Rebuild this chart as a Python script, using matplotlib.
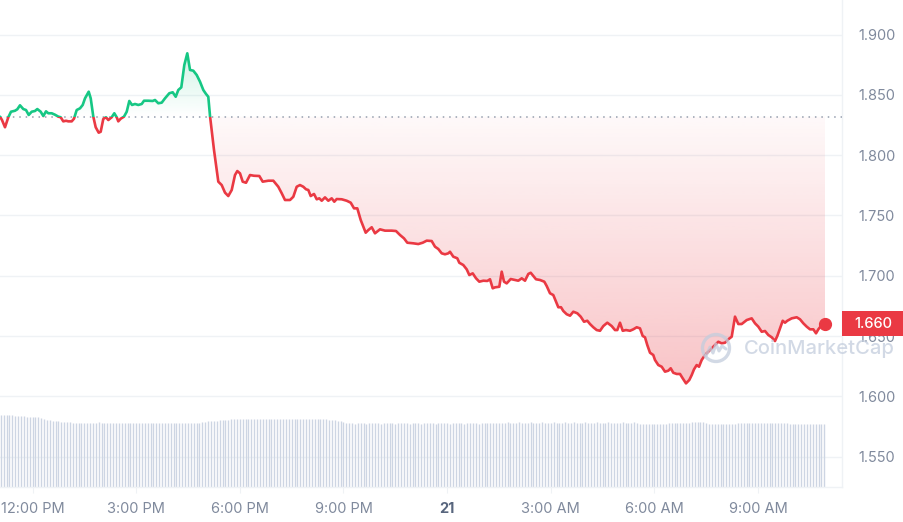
import numpy as np
import matplotlib
matplotlib.use("Agg")
import matplotlib.pyplot as plt
from matplotlib.patches import Rectangle, Circle
from matplotlib.transforms import blended_transform_factory

plt.rcParams['font.family'] = ['Inter', 'DejaVu Sans']

# ---------------- data ----------------
# time in hours relative to 12:00 PM (day 20)
hours = [
    -0.941, -0.883, -0.796, -0.700, -0.622, -0.507, -0.440, -0.362, -0.266, -0.188,
    -0.110, -0.023, 0.072, 0.139, 0.237, 0.313, 0.391, 0.457, 0.556, 0.651,
    0.747, 0.816, 0.891, 0.970, 1.036, 1.135, 1.201, 1.279, 1.375, 1.453,
    1.520, 1.627, 1.685, 1.760, 1.829, 1.916, 1.974, 2.049, 2.127, 2.194,
    2.292, 2.368, 2.437, 2.483, 2.553, 2.648, 2.727, 2.802, 2.880, 2.967,
    3.062, 3.161, 3.227, 3.352, 3.479, 3.546, 3.641, 3.740, 3.835, 3.960,
    4.058, 4.145, 4.220, 4.307, 4.394, 4.480, 4.559, 4.654, 4.753, 4.848,
    4.944, 5.022, 5.088, 5.138, 5.253, 5.378, 5.476, 5.572, 5.667, 5.766,
    5.861, 5.928, 6.006, 6.084, 6.180, 6.295, 6.411, 6.565, 6.663, 6.825,
    6.970, 7.114, 7.213, 7.308, 7.453, 7.549, 7.647, 7.742, 7.838, 7.916,
    7.983, 8.052, 8.148, 8.226, 8.301, 8.371, 8.466, 8.562, 8.660, 8.735,
    8.805, 8.950, 9.094, 9.210, 9.306, 9.401, 9.500, 9.644, 9.720, 9.818,
    9.913, 10.058, 10.203, 10.397, 10.521, 10.637, 10.753, 10.848, 11.022, 11.166,
    11.294, 11.410, 11.554, 11.650, 11.745, 11.844, 11.939, 12.035, 12.084, 12.180,
    12.295, 12.353, 12.469, 12.568, 12.643, 12.741, 12.837, 12.932, 13.048, 13.164,
    13.242, 13.320, 13.387, 13.511, 13.581, 13.647, 13.725, 13.841, 13.966, 14.061,
    14.160, 14.255, 14.351, 14.420, 14.495, 14.573, 14.689, 14.813, 14.883, 14.978,
    15.074, 15.152, 15.219, 15.297, 15.364, 15.462, 15.558, 15.653, 15.769, 15.867,
    15.963, 16.058, 16.136, 16.232, 16.330, 16.426, 16.521, 16.637, 16.764, 16.860,
    16.926, 17.004, 17.083, 17.178, 17.294, 17.389, 17.488, 17.583, 17.661, 17.728,
    17.794, 17.873, 17.968, 18.017, 18.113, 18.211, 18.307, 18.402, 18.472, 18.547,
    18.646, 18.741, 18.819, 18.915, 19.010, 19.080, 19.146, 19.224, 19.291, 19.369,
    19.465, 19.560, 19.659, 19.754, 19.850, 19.948, 20.044, 20.139, 20.238, 20.333,
    20.429, 20.527, 20.672, 20.816, 20.912, 21.008, 21.106, 21.202, 21.297, 21.396,
    21.491, 21.558, 21.636, 21.714, 21.781, 21.847, 21.974, 22.119, 22.215, 22.310,
    22.409, 22.504, 22.600, 22.678, 22.745, 22.843, 22.938,
]

price = [
    1.8319, 1.8291, 1.8231, 1.8314, 1.8360, 1.8368, 1.8380, 1.8413, 1.8382, 1.8374,
    1.8333, 1.8360, 1.8366, 1.8382, 1.8360, 1.8324, 1.8363, 1.8347, 1.8347, 1.8335,
    1.8319, 1.8314, 1.8280, 1.8285, 1.8280, 1.8280, 1.8302, 1.8374, 1.8388, 1.8416,
    1.8471, 1.8526, 1.8471, 1.8319, 1.8231, 1.8186, 1.8194, 1.8300, 1.8314, 1.8291,
    1.8314, 1.8347, 1.8314, 1.8280, 1.8302, 1.8319, 1.8360, 1.8449, 1.8416, 1.8424,
    1.8416, 1.8424, 1.8451, 1.8451, 1.8449, 1.8457, 1.8430, 1.8435, 1.8471, 1.8513,
    1.8521, 1.8484, 1.8540, 1.8562, 1.8747, 1.8844, 1.8706, 1.8700, 1.8664, 1.8609,
    1.8540, 1.8507, 1.8484, 1.8324, 1.8043, 1.7780, 1.7752, 1.7689, 1.7661, 1.7711,
    1.7835, 1.7868, 1.7849, 1.7780, 1.7771, 1.7835, 1.7829, 1.7827, 1.7780, 1.7788,
    1.7788, 1.7738, 1.7684, 1.7628, 1.7628, 1.7655, 1.7738, 1.7752, 1.7738, 1.7717,
    1.7711, 1.7661, 1.7678, 1.7634, 1.7642, 1.7622, 1.7650, 1.7622, 1.7642, 1.7614,
    1.7636, 1.7634, 1.7622, 1.7606, 1.7559, 1.7559, 1.7462, 1.7357, 1.7379, 1.7402,
    1.7352, 1.7385, 1.7374, 1.7374, 1.7371, 1.7338, 1.7310, 1.7274, 1.7269, 1.7263,
    1.7274, 1.7291, 1.7288, 1.7241, 1.7222, 1.7186, 1.7178, 1.7186, 1.7199, 1.7158,
    1.7145, 1.7108, 1.7089, 1.7053, 1.7006, 1.7020, 1.6979, 1.6951, 1.6959, 1.6957,
    1.6971, 1.6896, 1.6904, 1.6909, 1.7034, 1.6951, 1.6937, 1.6973, 1.6965, 1.6959,
    1.6979, 1.6959, 1.7015, 1.7025, 1.6998, 1.6971, 1.6965, 1.6951, 1.6915, 1.6855,
    1.6840, 1.6785, 1.6739, 1.6739, 1.6708, 1.6681, 1.6669, 1.6702, 1.6689, 1.6661,
    1.6619, 1.6627, 1.6600, 1.6573, 1.6550, 1.6544, 1.6583, 1.6611, 1.6583, 1.6550,
    1.6550, 1.6611, 1.6544, 1.6550, 1.6544, 1.6556, 1.6573, 1.6564, 1.6501, 1.6490,
    1.6426, 1.6362, 1.6343, 1.6302, 1.6260, 1.6246, 1.6205, 1.6213, 1.6233, 1.6196,
    1.6186, 1.6186, 1.6150, 1.6108, 1.6136, 1.6177, 1.6224, 1.6260, 1.6246, 1.6302,
    1.6343, 1.6370, 1.6399, 1.6426, 1.6453, 1.6440, 1.6445, 1.6473, 1.6495, 1.6661,
    1.6600, 1.6600, 1.6633, 1.6647, 1.6606, 1.6578, 1.6536, 1.6542, 1.6509, 1.6490,
    1.6459, 1.6501, 1.6564, 1.6627, 1.6611, 1.6627, 1.6647, 1.6656, 1.6639, 1.6606,
    1.6578, 1.6556, 1.6556, 1.6523, 1.6556, 1.6592, 1.6604,
]

# 5-minute volume bars (arbitrary units), first bar at 11:00 AM
volume_start_hour = -1.0
volume_step_hours = 5 / 60
volume = [
    36.0, 36.0, 35.9, 35.9, 35.8, 35.8, 35.6, 35.5, 35.4, 35.3, 35.2, 35.1, 35.0, 35.0, 34.8, 34.3, 33.9, 33.6, 33.4, 33.2, 33.0, 32.8, 32.7, 32.6,
    32.4, 32.3, 32.2, 32.1, 32.2, 32.2, 32.1, 32.2, 32.2, 32.1, 32.2, 32.3, 32.2, 32.1, 32.2, 32.2, 32.1, 32.2, 32.2, 32.1, 32.2, 32.2, 32.1, 32.2,
    32.2, 32.1, 32.2, 32.2, 32.1, 32.2, 32.1, 31.9, 31.9, 31.8, 31.9, 31.9, 31.8, 31.9, 31.9, 31.8, 31.9, 31.9, 31.9, 32.2, 32.2, 32.2, 32.2, 32.4,
    32.6, 32.8, 32.9, 33.1, 33.2, 33.3, 33.5, 33.6, 33.7, 33.8, 33.9, 34.0, 34.0, 34.0, 34.1, 34.0, 34.0, 33.9, 34.0, 34.0, 34.1, 34.0, 34.0, 34.0,
    34.0, 34.1, 34.0, 34.0, 33.9, 34.0, 34.0, 34.1, 34.0, 34.0, 34.0, 34.0, 34.1, 34.0, 34.0, 33.9, 34.0, 33.9, 33.8, 33.6, 33.5, 33.3, 33.1, 32.8,
    32.4, 32.0, 31.8, 31.8, 31.7, 31.8, 31.8, 31.8, 31.7, 31.8, 31.8, 31.8, 31.8, 31.7, 31.8, 31.8, 31.8, 31.8, 31.7, 31.8, 31.8, 31.8, 31.8, 31.7,
    31.8, 31.8, 31.8, 31.7, 31.8, 31.8, 31.8, 31.8, 31.7, 31.8, 31.8, 31.8, 31.8, 31.7, 31.8, 31.8, 31.8, 31.8, 31.7, 31.8, 31.8, 31.8, 31.8, 31.7,
    31.8, 31.8, 31.8, 31.8, 31.9, 31.9, 31.9, 32.2, 32.2, 32.3, 32.2, 32.2, 32.2, 32.3, 32.2, 32.2, 32.2, 32.3, 32.2, 32.2, 32.2, 32.3, 32.2, 32.2,
    32.2, 32.3, 32.2, 32.2, 32.2, 32.3, 32.2, 32.2, 32.3, 32.2, 32.2, 32.2, 32.3, 32.2, 32.2, 32.2, 32.3, 32.2, 32.2, 32.2, 32.3, 32.2, 32.2, 32.2,
    32.2, 32.3, 32.2, 32.2, 32.2, 32.3, 32.2, 31.6, 31.6, 31.5, 31.6, 31.6, 31.6, 31.5, 31.6, 31.6, 31.6, 31.9, 31.9, 31.9, 31.9, 31.9, 32.0, 32.1,
    32.2, 32.3, 32.3, 32.4, 32.4, 32.3, 32.2, 31.5, 31.4, 31.4, 31.4, 31.4, 31.4, 31.4, 31.4, 31.4, 31.5, 31.8, 31.9, 31.9, 31.9, 31.9, 31.9, 31.9,
    31.9, 31.9, 31.9, 31.9, 31.9, 31.8, 31.9, 31.9, 31.9, 31.9, 31.8, 31.7, 31.7, 31.7, 31.7, 31.6, 31.7, 31.7, 31.7, 31.6, 31.7, 31.7, 31.6, 31.6,
]

x_tick_hours = [0, 3, 6, 9, 12, 15, 18, 21]
x_tick_labels = ["12:00 PM", "3:00 PM", "6:00 PM", "9:00 PM", "21", "3:00 AM", "6:00 AM", "9:00 AM"]
y_ticks = [1.55, 1.60, 1.65, 1.70, 1.75, 1.80, 1.85, 1.90]

# ---------------- style ----------------
GREEN = '#16c784'
RED = '#ea3943'
GRID = '#eff2f5'
LABEL = '#808a9d'
VOL_COLOR = '#cdd5e3'
VOL_AXIS_MAX = 243.5

W, H = 904, 522
fig = plt.figure(figsize=(W / 100, H / 100), dpi=100)
fig.patch.set_facecolor('white')
ax = fig.add_axes([0, 35 / H, 842 / W, 487 / H])
ax.set_xlim(-0.9407, 23.430)
ax.set_ylim(1.5249, 1.9286)

h = np.array(hours)
p = np.array(price)
base = p[0]

# volume bars (bottom of the axes)
vt = volume_start_hour + volume_step_hours * np.arange(len(volume))
vtrans = blended_transform_factory(ax.transData, ax.transAxes)
ax.vlines(vt, 0, np.array(volume) / VOL_AXIS_MAX, colors=VOL_COLOR, linewidth=1.0,
          transform=vtrans, zorder=1)

# gradient fills
def gradient_fill(y_low, y_high, color, a_top, a_bottom, clip_poly):
    rgb = matplotlib.colors.to_rgb(color)
    n = 256
    img = np.zeros((n, 1, 4))
    img[:, 0, :3] = rgb
    img[:, 0, 3] = np.linspace(a_top, a_bottom, n)
    im = ax.imshow(img, extent=[h[0], h[-1], y_low, y_high], origin='upper',
                   aspect='auto', interpolation='bilinear', zorder=2)
    im.set_clip_path(clip_poly.get_paths()[0], transform=ax.transData)
    return im

poly_r = ax.fill_between(h, np.minimum(p, base), base, facecolor='none', edgecolor='none')
poly_g = ax.fill_between(h, base, np.maximum(p, base), facecolor='none', edgecolor='none')
gradient_fill(p.min(), base, RED, 0.03, 0.30, poly_r)
gradient_fill(base, p.max(), GREEN, 0.20, 0.0, poly_g)

# baseline
ax.axhline(base, color='#959eae', lw=1.1, ls=(0, (1, 3.2)), zorder=3.5)

# price line coloured by side of baseline
lg, = ax.plot(h, p, color=GREEN, lw=1.9, solid_joinstyle='round', solid_capstyle='round', zorder=4)
lg.set_clip_path(Rectangle((-5, base), 40, 1.0, transform=ax.transData))
lr, = ax.plot(h, p, color=RED, lw=1.9, solid_joinstyle='round', solid_capstyle='round', zorder=4)
lr.set_clip_path(Rectangle((-5, base - 1.0), 40, 1.0, transform=ax.transData))
ax.plot(h[-1], p[-1], 'o', ms=8.5, color=RED, zorder=6, clip_on=False)

# axes styling
ax.set_yticks(y_ticks)
ax.set_yticklabels([f"{v:.3f}" for v in y_ticks])
ax.yaxis.tick_right()
ax.grid(axis='y', color=GRID, lw=1.0, zorder=0)
ax.set_axisbelow(True)
ax.tick_params(axis='y', length=0, pad=12, labelsize=10.5, labelcolor=LABEL)
ax.set_xticks(x_tick_hours)
ax.set_xticklabels(x_tick_labels)
ax.tick_params(axis='x', length=4, color=GRID, pad=7, labelsize=10.5, labelcolor=LABEL)
lbl = ax.get_xticklabels()[4]
lbl.set_fontweight('bold')
lbl.set_color('#58667e')
for s in ['top', 'left']:
    ax.spines[s].set_visible(False)
for s in ['right', 'bottom']:
    ax.spines[s].set_color(GRID)
    ax.spines[s].set_linewidth(1.0)

# current price tag
btrans = blended_transform_factory(ax.transAxes, ax.transData)
tag_h = 0.0203
ax.add_patch(Rectangle((1.0, p[-1] - tag_h / 2), (W - 842) / 842, tag_h, transform=btrans,
                       facecolor=RED, edgecolor='none', clip_on=False, zorder=10))
ax.text(1.0 + (W - 842) / 842 / 2, p[-1], f"{p[-1]:.3f}", transform=btrans, ha='center',
        va='center', color='white', fontsize=10.5, fontweight='medium', zorder=11, clip_on=False)

# watermark
ov = fig.add_axes([0, 0, 1, 1], zorder=20)
ov.set_xlim(0, W)
ov.set_ylim(H, 0)
ov.axis('off')
wm = '#c3cddd'
ov.add_patch(Circle((716, 348), 13.5, fill=False, lw=2.4, ec=wm, alpha=0.75))
ov.plot([706, 710, 713, 716, 719, 722, 726], [356, 347, 353, 344, 351, 346, 349],
        color=wm, lw=2.2, alpha=0.75, solid_joinstyle='round', solid_capstyle='round')
ov.text(744, 349, "CoinMarketCap", ha='left', va='center', fontsize=14.5,
        color=wm, alpha=0.75, fontweight='medium')

fig.savefig('out.png', dpi=100)
